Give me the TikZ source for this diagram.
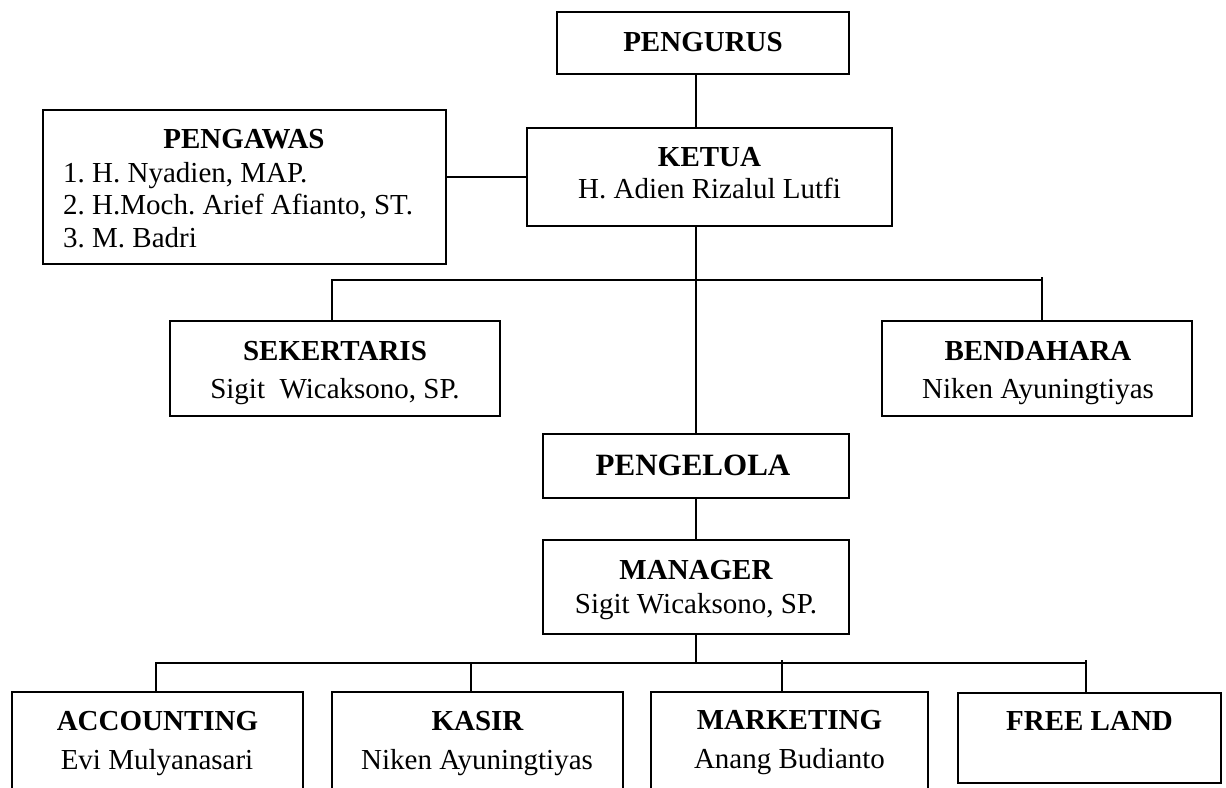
\documentclass[tikz,border=0pt]{standalone}
\usepackage{fontspec}
\setmainfont{Liberation Serif}
\frenchspacing
\begin{document}
\begin{tikzpicture}[x=1pt,y=-1pt,
  box/.style={draw=black,line width=1.6pt,rectangle,inner sep=0pt},
  ln/.style={draw=black,line width=1.6pt},
  hd/.style={inner sep=0pt,anchor=base,font=\fontsize{29}{32}\selectfont\bfseries},
  nm/.style={inner sep=0pt,anchor=base,font=\fontsize{29}{32}\selectfont},
  li/.style={inner sep=0pt,anchor=base west,font=\fontsize{29}{32}\selectfont}]
\useasboundingbox (0,0) rectangle (1226,787);
\clip (0,0) rectangle (1226,787);
\fill[white] (0,0) rectangle (1226,787);
% boxes
\node[box,minimum width=292pt,minimum height=62pt] (pengurus) at (703,43) {};
\node[box,minimum width=365pt,minimum height=98pt] (ketua) at (709.5,177) {};
\node[box,minimum width=403pt,minimum height=154pt] (pengawas) at (244.5,187) {};
\node[box,minimum width=330pt,minimum height=95pt] (sekr) at (335,368.5) {};
\node[box,minimum width=310pt,minimum height=95pt] (bend) at (1037,368.5) {};
\node[box,minimum width=306pt,minimum height=64pt] (pengelola) at (696,466) {};
\node[box,minimum width=306pt,minimum height=94pt] (manager) at (696,587) {};
\node[box,minimum width=291pt,minimum height=118pt] (acc) at (157.5,751) {};
\node[box,minimum width=291pt,minimum height=118pt] (kasir) at (477.5,751) {};
\node[box,minimum width=277pt,minimum height=118pt] (mkt) at (789.5,751) {};
\node[box,minimum width=263pt,minimum height=90pt] (free) at (1089.5,738) {};
% texts
\node[hd] (pengurusT) at (703,51) {PENGURUS};
\node[hd] (ketuaT) at (709.5,166) {KETUA};
\node[nm] (ketuaN) at (709.5,198) {H. Adien Rizalul Lutfi};
\node[hd] (pengawasT) at (244,148) {PENGAWAS};
\node[li] (pengawas1) at (63,182) {1. H. Nyadien, MAP.};
\node[li] (pengawas2) at (63,214) {2. H.Moch. Arief Afianto, ST.};
\node[li] (pengawas3) at (63,247) {3. M. Badri};
\node[hd] (sekrT) at (335,360) {SEKERTARIS};
\node[nm] (sekrN) at (335,398) {Sigit\ \ Wicaksono, SP.};
\node[hd] (bendT) at (1038,360) {BENDAHARA};
\node[nm] (bendN) at (1038,398) {Niken Ayuningtiyas};
\node[hd,font=\fontsize{31}{34}\selectfont\bfseries] (pengelolaT) at (693,475) {PENGELOLA};
\node[hd] (managerT) at (696,579) {MANAGER};
\node[nm] (managerN) at (696,613) {Sigit Wicaksono, SP.};
\node[hd] (accT) at (157.5,730) {ACCOUNTING};
\node[nm] (accN) at (157,769) {Evi Mulyanasari};
\node[hd] (kasirT) at (477.5,730) {KASIR};
\node[nm] (kasirN) at (477,769) {Niken Ayuningtiyas};
\node[hd] (mktT) at (789.5,729) {MARKETING};
\node[nm] (mktN) at (789.5,768) {Anang Budianto};
\node[hd] (freeT) at (1089.5,730) {FREE LAND};
% connector coordinates
\coordinate (barL) at (332,280);
\coordinate (barR) at (1042,280);
\coordinate (barRtop) at (1042,277);
\coordinate (mb) at (696,663);
\coordinate (t1) at (156,663);
\coordinate (t2) at (471,663);
\coordinate (t3) at (782,660);
\coordinate (t4) at (1086,660);
\coordinate (t4b) at (1086,663);
% connectors
\draw[ln] (pengurus.south -| pengelola.north) -- (ketua.north -| pengelola.north);
\draw[ln] (pengawas.east |- ketua.west) -- (ketua.west);
\draw[ln] (ketua.south -| pengelola.north) -- (pengelola.north);
\draw[ln] (sekr.north -| barL) -- (barL) -- (barR);
\draw[ln] (barRtop) -- (bend.north -| barRtop);
\draw[ln] (pengelola.south) -- (manager.north);
\draw[ln] (manager.south) -- (mb);
\draw[ln] (acc.north -| t1) -- (t1) -- (t4b);
\draw[ln] (kasir.north -| t2) -- (t2);
\draw[ln] (mkt.north -| t3) -- (t3);
\draw[ln] (free.north -| t4) -- (t4);
\end{tikzpicture}
\end{document}
